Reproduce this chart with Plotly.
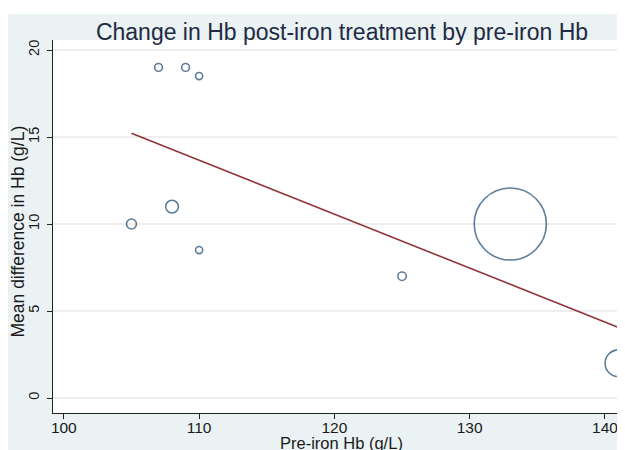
import numpy as np
import plotly.graph_objects as go

# pre-iron Hb (g/L), mean change in Hb (g/L), study weight (marker area)
pre_hb = [107, 109, 110, 105, 108, 110, 125, 133, 141]
mean_diff = [19, 19, 18.5, 10, 11, 8.5, 7, 10, 2]
weight = [30, 30, 25, 49, 81, 25, 36, 2600, 361]

x_ticks = [100, 110, 120, 130, 140]
y_ticks = [0, 5, 10, 15, 20]

FONT = "Liberation Sans, Arial, sans-serif"
TEXT_COLOR = "#1a1a1a"
BG = "#EAF2F3"
NAVY = "#1A476F"
MAROON = "#90353B"

# the page body adds an 8px margin, so the figure is 8px smaller each way
W, H = 617, 442

# unweighted linear fit, drawn over the observed range
slope, intercept = np.polyfit(pre_hb, mean_diff, 1)
fit_x = np.array([min(pre_hb), max(pre_hb)])
fit_y = intercept + slope * fit_x

fig = go.Figure()
fig.add_trace(go.Scatter(
    x=pre_hb, y=mean_diff,
    mode="markers",
    marker=dict(
        size=weight, sizemode="area", sizeref=1,
        color="rgba(0,0,0,0)",
        line=dict(color=NAVY, width=1.6),
    ),
    cliponaxis=False,
    showlegend=False,
))
fig.add_trace(go.Scatter(
    x=fit_x, y=fit_y,
    mode="lines",
    line=dict(color=MAROON, width=1.6),
    showlegend=False,
))

fig.update_layout(
    width=W, height=H, autosize=False,
    paper_bgcolor=BG,
    plot_bgcolor="white",
    font=dict(family=FONT, color=TEXT_COLOR, size=15),
    margin=dict(l=45, r=0, t=32, b=37, pad=0),
    title=dict(
        text="Change in Hb post-iron treatment by pre-iron Hb",
        x=(342 - 8) / W, xref="container", xanchor="center",
        y=1 - (32 - 8) / H, yref="container", yanchor="middle",
        font=dict(family=FONT, size=23, color="#1F2A44"),
    ),
    xaxis=dict(
        range=[99.2, 141.48],
        tickvals=x_ticks,
        ticks="outside", ticklen=5, tickwidth=1, tickcolor="#222",
        ticklabelstandoff=-5,
        showline=True, linecolor="#222", linewidth=1,
        showgrid=False, zeroline=False,
        tickfont=dict(size=15.5, color=TEXT_COLOR),
    ),
    yaxis=dict(
        range=[-0.862, 20.575],
        tickvals=y_ticks,
        tickangle=-90,
        ticks="outside", ticklen=5, tickwidth=1, tickcolor="#222",
        ticklabelstandoff=2,
        showline=True, linecolor="#222", linewidth=1,
        showgrid=True, gridcolor="#EEEEEE", gridwidth=1.5,
        zeroline=False,
        tickfont=dict(size=14.5, color=TEXT_COLOR),
    ),
    annotations=[
        dict(
            text="Pre-iron Hb (g/L)",
            xref="paper", yref="paper",
            x=(341 - 53) / 572, y=(413 - 443) / 373,
            xanchor="center", yanchor="middle",
            showarrow=False,
            font=dict(size=16.5, color=TEXT_COLOR),
        ),
        dict(
            text="Mean difference in Hb (g/L)",
            xref="paper", yref="paper",
            x=(17 - 53) / 572, y=(413 - 231.5) / 373,
            xanchor="center", yanchor="middle",
            textangle=-90,
            showarrow=False,
            font=dict(size=17.5, color=TEXT_COLOR),
        ),
    ],
    shapes=[
        # thin white strip above the graph region
        dict(type="rect", xref="paper", yref="paper", layer="below",
             x0=-0.2, x1=1.1, y0=(413 - 14) / 373, y1=1.3,
             fillcolor="white", line_width=0),
    ],
)

fig.write_html("out.html")
